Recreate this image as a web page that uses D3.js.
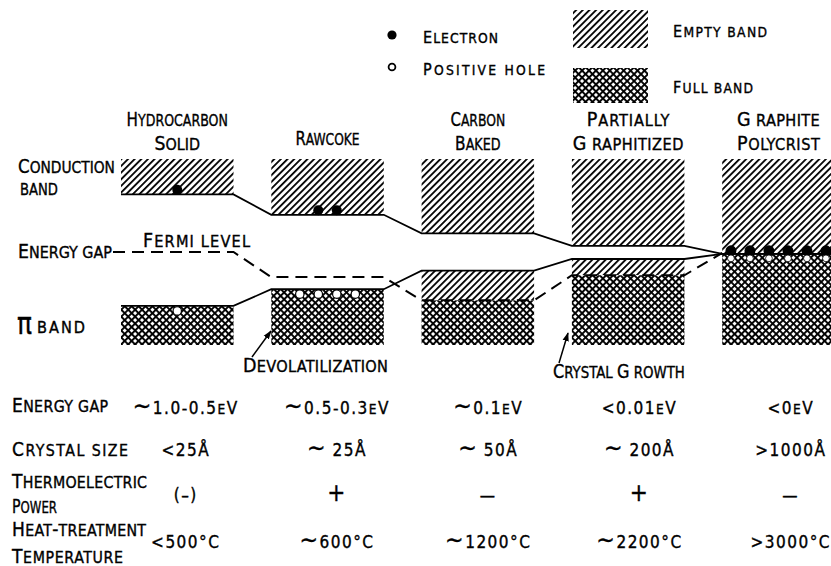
<!DOCTYPE html>
<html><head><meta charset="utf-8">
<script src="https://cdnjs.cloudflare.com/ajax/libs/d3/7.8.5/d3.min.js"></script>
<style>
html,body{margin:0;padding:0;background:#fff;}
svg{display:block;}
text{font-family:"DejaVu Sans Condensed","Liberation Sans Narrow","DejaVu Sans",sans-serif;fill:#000;stroke:#000;stroke-width:0.35;}
</style></head><body>
<svg id="chart" width="831" height="566"></svg>
<script>
// ---------------- data ----------------
const stages = ["Hydrocarbon Solid","Rawcoke","Carbon Baked","Partially Graphitized","Graphite Polycrist"];
const stageLabelLines = [["Hydrocarbon","Solid"],["Rawcoke"],["Carbon","Baked"],["Partially","G raphitized"],["G raphite","Polycrist"]];
// relative energies (schematic units, band limits at +1 / -1)
const conductionEdge = [0.62, 0.40, 0.20, 0.065, -0.02];
const valenceEdge    = [-0.58, -0.40, -0.20, -0.075, -0.02];
const fermiLevel     = [0.0, -0.27, -0.52, -0.25, -0.01];
const electronCount  = [1, 2, 0, 0, 6];
const holeCount      = [1, 4, 0, 0, 6];
const energyGapVals  = ["∼1.0-0.5eV","∼0.5-0.3eV","∼0.1eV","<0.01eV","<0eV"];
const crystalSizeVals= ["<25Å","∼ 25Å","∼ 50Å","∼ 200Å",">1000Å"];
const thermoVals     = ["(–)","+","—","+","—"];
const heatTempVals   = ["<500°C","∼600°C","∼1200°C","∼2200°C",">3000°C"];
const tableRows = [energyGapVals, crystalSizeVals, thermoVals, heatTempVals];
const tableRowLabels = [["Energy gap"],["Crystal size"],["Thermoelectric","Power"],["Heat-treatment","Temperature"]];

// ---------------- layout ----------------
const W = 831, H = 566;
const svg = d3.select("#chart");
svg.append("rect").attr("width",W).attr("height",H).attr("fill","#fff");

const x = d3.scaleBand().domain(stages).range([121, 834.7]).paddingInner(0.2515).paddingOuter(0);
const bw = x.bandwidth();
const y = d3.scaleLinear().domain([-1, 1]).range([345, 159]);
const tx = d3.scalePoint().domain(stages).range([185, 790]);

const defs = svg.append("defs");
const hp = defs.append("pattern").attr("id","hatch").attr("patternUnits","userSpaceOnUse")
  .attr("width",4.7).attr("height",10).attr("patternTransform","rotate(45)");
hp.append("rect").attr("width",4.7).attr("height",10).attr("fill","#fff");
hp.append("rect").attr("x",0).attr("y",0).attr("width",1.8).attr("height",10).attr("fill","#000");
const cp = defs.append("pattern").attr("id","cross").attr("patternUnits","userSpaceOnUse")
  .attr("width",4.9).attr("height",4.9).attr("patternTransform","rotate(45)");
cp.append("rect").attr("width",4.9).attr("height",4.9).attr("fill","#000");
cp.append("rect").attr("x",1.9).attr("y",1.9).attr("width",3.0).attr("height",3.0).attr("fill","#fff");
defs.append("marker").attr("id","arrow").attr("viewBox","0 0 10 10").attr("refX",9).attr("refY",5)
  .attr("markerUnits","userSpaceOnUse").attr("markerWidth",9).attr("markerHeight",9).attr("orient","auto")
  .append("path").attr("d","M0,1.5 L10,5 L0,8.5 Z").attr("fill","#000");

// ---------------- text helpers ----------------
function scRuns(str, size, ratio) {
  const runs = [];
  for (const ch of str) {
    let sz;
    if (ch === "∼") sz = size * 1.45;
    else if (ch === " " || ch !== ch.toUpperCase()) sz = size * ratio;
    else sz = size;
    const d = ch.toUpperCase();
    const last = runs[runs.length - 1];
    if (last && last.size === sz) last.s += d; else runs.push({s: d, size: sz});
  }
  return runs;
}
function makeText(parent, runs, px, yb, opt) {
  const o = Object.assign({anchor:"start", width:null, spacing:0}, opt || {});
  const g = parent.append("g");
  const t = g.append("text").attr("x",0).attr("y",0);
  runs.forEach(r => t.append("tspan").attr("font-size", r.size).text(r.s));
  const n = runs.reduce((a, r) => a + [...r.s].length, 0);
  const w = t.node().getComputedTextLength();
  let sx = 1, Wd;
  if (o.width != null) {
    if (w > o.width || n < 2) sx = o.width / w;
    else t.attr("letter-spacing", (o.width - w) / (n - 1));
    Wd = o.width;
  } else {
    if (o.spacing) t.attr("letter-spacing", o.spacing);
    Wd = w + o.spacing * (n - 1);
  }
  const x0 = o.anchor === "middle" ? px - Wd / 2 : (o.anchor === "end" ? px - Wd : px);
  g.attr("transform", `translate(${x0},${yb}) scale(${sx},1)`);
  return g;
}
const LBL = 19.5, LR = 0.83;

// ---------------- bands ----------------
const gBands = svg.append("g");
stages.forEach((s, i) => {
  const x0 = x(s);
  gBands.append("rect").attr("x", x0).attr("y", y(1)).attr("width", bw)
    .attr("height", y(conductionEdge[i]) - y(1)).attr("fill","url(#hatch)");
  if (fermiLevel[i] < valenceEdge[i]) {
    gBands.append("rect").attr("x", x0).attr("y", y(valenceEdge[i])).attr("width", bw)
      .attr("height", y(fermiLevel[i]) - y(valenceEdge[i])).attr("fill","url(#hatch)");
  }
  const topFull = Math.min(valenceEdge[i], fermiLevel[i]);
  gBands.append("rect").attr("x", x0).attr("y", y(topFull)).attr("width", bw)
    .attr("height", y(-1) - y(topFull)).attr("fill","url(#cross)");
});

// ---------------- edges ----------------
function edgePts(vals, startX, lastLeftOnly) {
  const pts = [];
  stages.forEach((s, i) => {
    const xl = (i === 0 && startX != null) ? startX : x(s);
    pts.push([xl, y(vals[i])]);
    if (!(lastLeftOnly && i === stages.length - 1)) pts.push([x(s) + bw, y(vals[i])]);
  });
  return pts;
}
const line = d3.line();
svg.append("path").attr("d", line(edgePts(conductionEdge))).attr("fill","none")
  .attr("stroke","#000").attr("stroke-width",1.8);
svg.append("path").attr("d", line(edgePts(valenceEdge))).attr("fill","none")
  .attr("stroke","#000").attr("stroke-width",1.8);
svg.append("path").attr("d", line(edgePts(fermiLevel, 113, true))).attr("fill","none")
  .attr("stroke","#000").attr("stroke-width",2).attr("stroke-dasharray","12,7");

// ---------------- carriers ----------------
const gCar = svg.append("g");
stages.forEach((s, i) => {
  const cx = x(s) + bw / 2;
  const overlap = conductionEdge[i] <= valenceEdge[i];
  const sp = overlap ? 19 : 18.5;
  d3.range(electronCount[i]).forEach(k => {
    gCar.append("circle").attr("cx", cx + (k - (electronCount[i] - 1) / 2) * sp)
      .attr("cy", y(conductionEdge[i]) - (overlap ? 3 : 4.5)).attr("r", overlap ? 5.5 : 5).attr("fill","#000");
  });
  d3.range(holeCount[i]).forEach(k => {
    gCar.append("circle").attr("cx", cx + (k - (holeCount[i] - 1) / 2) * sp)
      .attr("cy", y(valenceEdge[i]) + (overlap ? 4.5 : 5)).attr("r", overlap ? 3.4 : 4.2)
      .attr("fill","#fff").attr("stroke","#000").attr("stroke-width", overlap ? 0.8 : 1.2);
  });
});

// ---------------- stage headers ----------------
const gTxt = svg.append("g");
stageLabelLines.forEach((lines, i) => {
  const cx = x(stages[i]) + bw / 2;
  const bases = lines.length === 1 ? [145] : [126, 150];
  lines.forEach((ln, j) => {
    makeText(gTxt, scRuns(ln, LBL, LR), cx, bases[j], {anchor:"middle", width: [...ln].length * 9.3 - 1});
  });
});

// ---------------- side labels ----------------
makeText(gTxt, scRuns("Conduction", LBL, LR), 18, 173, {width: 97});
makeText(gTxt, scRuns("band", LBL, LR), 20, 195, {width: 38});
makeText(gTxt, scRuns("Energy gap", LBL, LR), 18, 258, {width: 94});
makeText(gTxt, [{s:"π", size:30}], 17, 334, {width: 15});
makeText(gTxt, scRuns("band", LBL, LR), 37, 333, {width: 48});
makeText(gTxt, scRuns("Fermi level", LBL, LR), 143, 247, {width: 107});
makeText(gTxt, scRuns("Devolatilization", LBL, LR), 243, 372, {width: 145});
makeText(gTxt, scRuns("Crystal G rowth", LBL, LR), 553, 378, {width: 132});
svg.append("line").attr("x1",252).attr("y1",357).attr("x2",271).attr("y2",331)
  .attr("stroke","#000").attr("stroke-width",1.5).attr("marker-end","url(#arrow)");
svg.append("line").attr("x1",559).attr("y1",363).attr("x2",568).attr("y2",333)
  .attr("stroke","#000").attr("stroke-width",1.5).attr("marker-end","url(#arrow)");

// ---------------- legend ----------------
const LG = 16, LGR = 0.86;
svg.append("circle").attr("cx",392).attr("cy",35).attr("r",4.6).attr("fill","#000");
svg.append("circle").attr("cx",392).attr("cy",67).attr("r",3.4).attr("fill","#fff").attr("stroke","#000").attr("stroke-width",1.8);
makeText(gTxt, scRuns("Electron", LG, LGR), 423, 43, {width: 75});
makeText(gTxt, scRuns("Positive hole", LG, LGR), 423, 75, {width: 122});
svg.append("rect").attr("x",573).attr("y",10).attr("width",75).attr("height",38).attr("fill","url(#hatch)");
svg.append("rect").attr("x",573).attr("y",68).attr("width",75).attr("height",35).attr("fill","url(#cross)");
makeText(gTxt, scRuns("Empty band", LG, LGR), 673, 37, {width: 94});
makeText(gTxt, scRuns("Full band", LG, LGR), 673, 93, {width: 80});

// ---------------- table ----------------
const rowLabelBases = [[412],[456],[488,513],[536,563]];
const rowLabelWidths = [[96],[116],[135,45],[134,111]];
tableRowLabels.forEach((lines, r) => {
  lines.forEach((ln, j) => makeText(gTxt, scRuns(ln, 19, LR), 12, rowLabelBases[r][j], {width: rowLabelWidths[r][j]}));
});
const rowValueBases = [414, 456, 501, 548];
tableRows.forEach((vals, r) => {
  vals.forEach((v, i) => {
    const size = (v === "+") ? 24 : 17;
    makeText(gTxt, scRuns(v, size, 0.8), tx(stages[i]), rowValueBases[r], {anchor:"middle", spacing: v.length > 1 ? 1.5 : 0});
  });
});
</script>
</body></html>
